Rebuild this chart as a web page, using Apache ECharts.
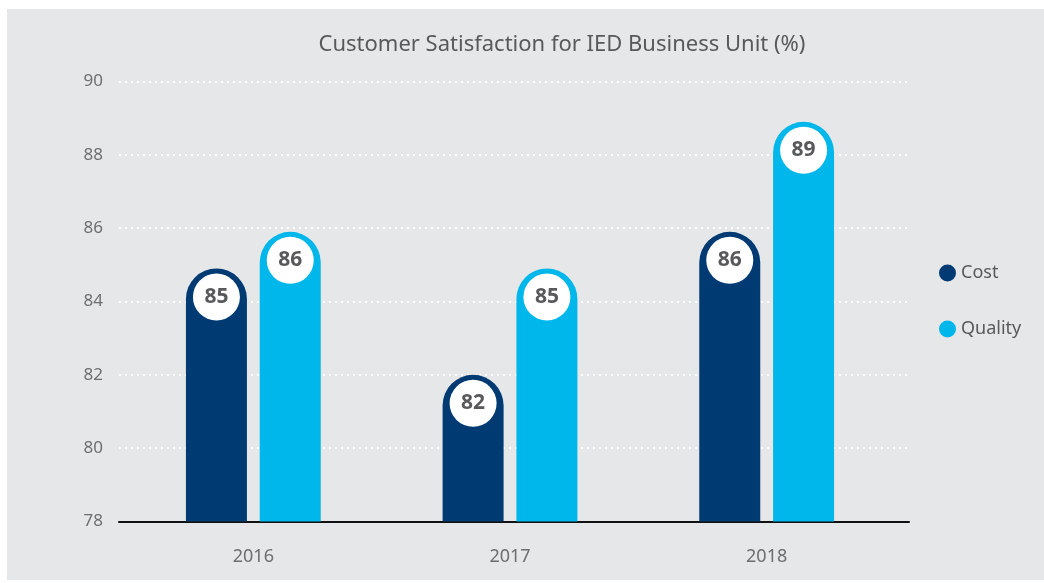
<!DOCTYPE html>
<html>
<head>
<meta charset="utf-8">
<script src="https://cdn.jsdelivr.net/npm/echarts@6/dist/echarts.min.js"></script>
<style>
html, body { margin: 0; padding: 0; background: #ffffff; }
/* grey panel behind the chart */
.panel { position: absolute; left: 7px; top: 9px; right: 0; bottom: 3px; background: #e6e7e8; }
#chart { position: absolute; left: 0; top: 0; width: 1044px; height: 583px; }
</style>
</head>
<body>
<div class="panel"></div>
<div id="chart"></div>
<script>
// data
var years = ['2016', '2017', '2018'];
var costValues = [84.9, 82.0, 85.9];
var qualityValues = [85.9, 84.9, 88.9];
var seriesNames = ['Cost', 'Quality'];
var titleText = 'Customer Satisfaction for IED Business Unit (%)';

var font = '"Noto Sans", sans-serif';

var chart = echarts.init(document.getElementById('chart'));

// white round badge at the top of each bar
var badge = {
    show: true,
    position: 'insideTop',
    distance: 5,
    formatter: function (p) { return Math.round(p.value); },
    width: 47,
    height: 47,
    lineHeight: 47,
    align: 'center',
    padding: 0,
    backgroundColor: '#ffffff',
    borderRadius: 23.5,
    fontFamily: font,
    fontSize: 21,
    fontWeight: 'bold',
    color: '#58595b'
};

var opt = {
    backgroundColor: 'transparent',
    title: {
        text: titleText,
        left: 557,
        textAlign: 'center',
        top: 29,
        textStyle: {
            fontFamily: font,
            fontSize: 22,
            fontWeight: 'normal',
            color: '#58595b'
        }
    },
    legend: {
        data: seriesNames,
        orient: 'vertical',
        left: 934,
        top: 259,
        icon: 'circle',
        itemWidth: 17,
        itemHeight: 17,
        itemGap: 38,
        textStyle: {
            fontFamily: font,
            fontSize: 18,
            lineHeight: 17,
            color: '#58595b'
        }
    },
    grid: [
        // grid for the gridlines and the base line
        { left: 119, right: 135, top: 81.5, bottom: 61.5 },
        // grid for the bars
        { left: 125, right: 149, top: 81.5, bottom: 61.5 }
    ],
    xAxis: [{
        gridIndex: 0,
        type: 'value',
        min: 0,
        max: 1,
        axisLine: { show: true, onZero: false, lineStyle: { color: '#111111', width: 2 } },
        axisTick: { show: false },
        axisLabel: { show: false },
        splitLine: { show: false }
    }, {
        gridIndex: 1,
        type: 'category',
        data: years,
        axisLine: { show: false },
        axisTick: { show: false },
        axisLabel: {
            margin: 26,
            fontFamily: font,
            fontSize: 18,
            color: '#6d6e71'
        }
    }],
    yAxis: [{
        gridIndex: 0,
        type: 'value',
        min: 78,
        max: 90,
        interval: 2,
        axisLine: { show: false },
        axisTick: { show: false },
        axisLabel: {
            margin: 16,
            fontFamily: font,
            fontSize: 17,
            color: '#6d6e71'
        },
        splitLine: {
            show: true,
            lineStyle: { color: '#ffffff', width: 2, type: [2, 4] }
        }
    }, {
        gridIndex: 1,
        type: 'value',
        min: 78,
        max: 90,
        show: false
    }],
    series: [{
        name: seriesNames[0],
        type: 'bar',
        xAxisIndex: 1,
        yAxisIndex: 1,
        data: costValues,
        barWidth: 61,
        barGap: '21%',
        itemStyle: { color: '#003a73', borderRadius: [30.5, 30.5, 0, 0] },
        label: badge
    }, {
        name: seriesNames[1],
        type: 'bar',
        xAxisIndex: 1,
        yAxisIndex: 1,
        data: qualityValues,
        barWidth: 61,
        barGap: '21%',
        itemStyle: { color: '#00b7eb', borderRadius: [30.5, 30.5, 0, 0] },
        label: badge
    }]
};
chart.setOption(opt);
window.addEventListener('resize', function () {
    chart.resize();
});
</script>
</body>
</html>
